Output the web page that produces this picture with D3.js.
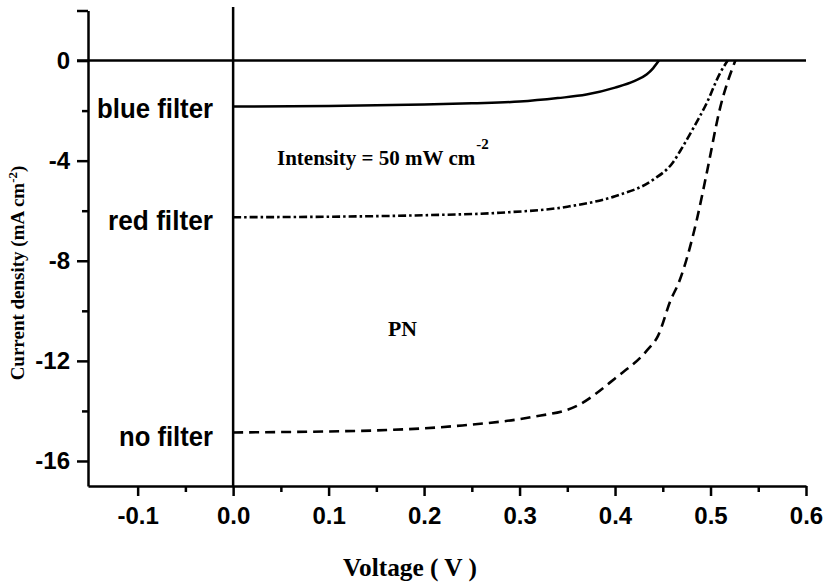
<!DOCTYPE html>
<html>
<head>
<meta charset="utf-8">
<script src="https://cdn.jsdelivr.net/npm/d3@7/dist/d3.min.js"></script>
<style>
  html, body { margin: 0; padding: 0; background: #fff; }
  svg { display: block; }
  .axis path, .axis line { stroke: #000; stroke-width: 2.5; }
  .axis text { font-family: "Liberation Sans", Arial, sans-serif; font-weight: bold; font-size: 24px; fill: #000; }
</style>
</head>
<body>
<svg id="chart" width="825" height="587"></svg>
<script>
// J–V curves of the PN cell under 50 mW cm^-2 illumination
const voltageBlue = [0, 0.1, 0.2, 0.25, 0.3, 0.34, 0.37, 0.4, 0.42, 0.433, 0.44, 0.446];
const currentBlue = [-1.84, -1.82, -1.76, -1.71, -1.64, -1.5, -1.36, -1.08, -0.82, -0.56, -0.3, 0];

const voltageRed = [0, 0.1, 0.2, 0.28, 0.35, 0.4, 0.44, 0.46, 0.47, 0.482, 0.496, 0.51, 0.518];
const currentRed = [-6.26, -6.24, -6.18, -6.08, -5.84, -5.42, -4.76, -4.1, -3.5, -2.7, -1.7, -0.5, 0];

const voltageNone = [0, 0.1, 0.15, 0.24, 0.31, 0.36, 0.4, 0.433, 0.445, 0.458, 0.468, 0.476, 0.486, 0.496, 0.51, 0.526];
const currentNone = [-14.86, -14.82, -14.78, -14.58, -14.26, -13.8, -12.7, -11.6, -11.0, -9.6, -8.75, -7.8, -6.3, -4.5, -1.9, 0];

const xMajorTicks = [-0.1, 0.0, 0.1, 0.2, 0.3, 0.4, 0.5, 0.6];
const xTickLabels = ["-0.1", "0.0", "0.1", "0.2", "0.3", "0.4", "0.5", "0.6"];
const xMinorTicks = [-0.05, 0.05, 0.15, 0.25, 0.35, 0.45, 0.55];
const yMajorTicks = [2, 0, -4, -8, -12, -16];
const yTickLabels = ["", "0", "-4", "-8", "-12", "-16"];
const yMinorTicks = [-2, -6, -10, -14];

const seriesLabels = ["blue filter", "red filter", "no filter"];

const svg = d3.select("#chart");

const x = d3.scaleLinear().domain([-0.152, 0.6]).range([88, 806]);
const y = d3.scaleLinear().domain([-17, 2]).range([486, 10.5]);

// Minor ticks first, then major axes on top
svg.append("g").attr("class", "axis")
  .attr("transform", `translate(0,${y(-17)})`)
  .call(d3.axisBottom(x).tickValues(xMinorTicks).tickSize(6).tickFormat(""))
  .call(g => g.select(".domain").remove());
svg.append("g").attr("class", "axis")
  .attr("transform", `translate(${x(-0.152)},0)`)
  .call(d3.axisLeft(y).tickValues(yMinorTicks).tickSize(6).tickFormat(""))
  .call(g => g.select(".domain").remove());

svg.append("g").attr("class", "axis")
  .attr("transform", `translate(0,${y(-17)})`)
  .call(d3.axisBottom(x).tickValues(xMajorTicks).tickSize(10).tickSizeOuter(0).tickPadding(11)
    .tickFormat((d, i) => xTickLabels[i]));

svg.append("g").attr("class", "axis")
  .attr("transform", `translate(${x(-0.152)},0)`)
  .call(d3.axisLeft(y).tickValues(yMajorTicks).tickSize(11).tickSizeOuter(0).tickPadding(7)
    .tickFormat((d, i) => yTickLabels[i]));

// Zero-current line and zero-voltage line
svg.append("line")
  .attr("x1", x(-0.152) - 11).attr("x2", x(0.6))
  .attr("y1", y(0)).attr("y2", y(0))
  .attr("stroke", "#000").attr("stroke-width", 2.5);
svg.append("line")
  .attr("x1", x(0)).attr("x2", x(0))
  .attr("y1", 7).attr("y2", y(-17))
  .attr("stroke", "#000").attr("stroke-width", 2.5);

const line = d3.line().x(d => x(d[0])).y(d => y(d[1])).curve(d3.curveMonotoneX);

const zip = (a, b) => a.map((v, i) => [v, b[i]]);

svg.append("path").datum(zip(voltageBlue, currentBlue))
  .attr("d", line).attr("fill", "none").attr("stroke", "#000").attr("stroke-width", 2.5);
svg.append("path").datum(zip(voltageRed, currentRed))
  .attr("d", line).attr("fill", "none").attr("stroke", "#000").attr("stroke-width", 2.6)
  .attr("stroke-dasharray", "8,3,2.5,3");
svg.append("path").datum(zip(voltageNone, currentNone))
  .attr("d", line).attr("fill", "none").attr("stroke", "#000").attr("stroke-width", 2.6)
  .attr("stroke-dasharray", "10,6");

// Curve labels, right-aligned against the V = 0 line
const labelBaselines = [118, 230, 446];
const labelWidths = [116, 105, 94];
seriesLabels.forEach((t, i) => {
  svg.append("text")
    .attr("x", 213).attr("y", labelBaselines[i])
    .attr("text-anchor", "end")
    .attr("textLength", labelWidths[i]).attr("lengthAdjust", "spacingAndGlyphs")
    .style("font-family", "'Liberation Sans', Arial, sans-serif")
    .style("font-weight", "bold").style("font-size", "27px")
    .text(t);
});

const serif = "'Liberation Serif', 'Times New Roman', serif";

// Intensity annotation with superscript exponent
const intensity = svg.append("text")
  .attr("x", 277).attr("y", 165)
  .style("font-family", serif).style("font-weight", "bold").style("font-size", "21px");
intensity.append("tspan").text("Intensity = 50 mW cm");
intensity.append("tspan").attr("dx", 1).attr("dy", -16).style("font-size", "15px").text("-2");

// Sample name
svg.append("text")
  .attr("x", 388).attr("y", 336)
  .attr("textLength", 29).attr("lengthAdjust", "spacingAndGlyphs")
  .style("font-family", serif).style("font-weight", "bold").style("font-size", "22px")
  .text("PN");

// Axis titles
svg.append("text")
  .attr("x", 410).attr("y", 576)
  .attr("text-anchor", "middle")
  .attr("textLength", 134).attr("lengthAdjust", "spacingAndGlyphs")
  .style("font-family", serif).style("font-weight", "bold").style("font-size", "25px")
  .text("Voltage ( V )");

const yTitle = svg.append("text")
  .attr("transform", "translate(24,273) rotate(-90)")
  .attr("text-anchor", "middle")
  .style("font-family", serif).style("font-weight", "bold").style("font-size", "19px");
yTitle.append("tspan").text("Current density (mA cm");
yTitle.append("tspan").attr("dy", -7).style("font-size", "13px").text("-2");
yTitle.append("tspan").attr("dy", 7).text(")");
</script>
</body>
</html>
